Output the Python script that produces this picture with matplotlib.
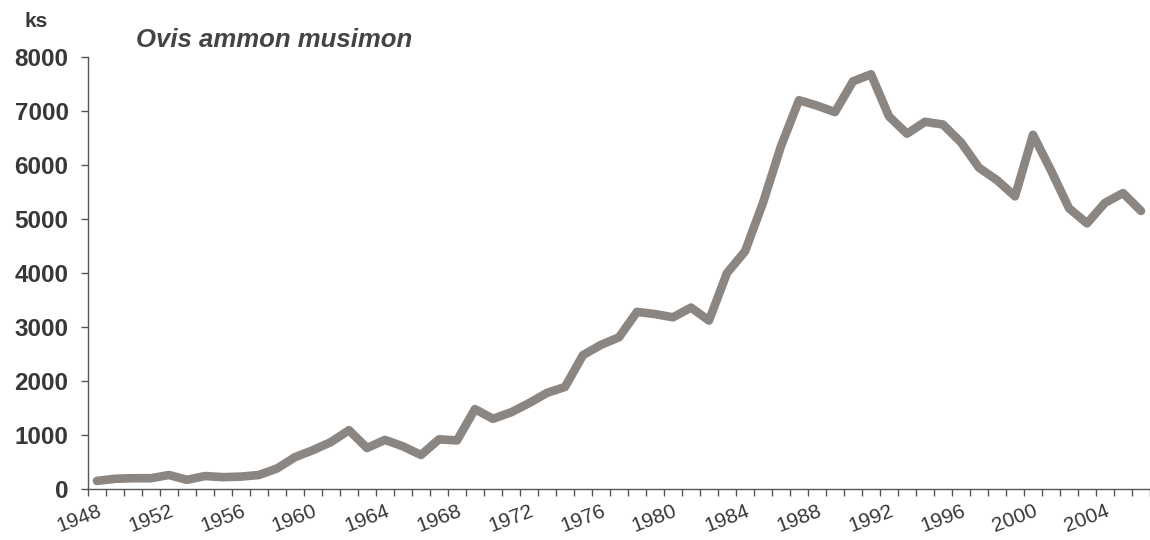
# library imports
import matplotlib
matplotlib.use('Agg')
import matplotlib.pyplot as plt


# data (ks per year)
years = list(range(1948, 2007))
heads = [150, 190, 200, 200, 260, 170, 240, 220, 230, 260,
         380, 590, 720, 870, 1090, 760, 910, 790, 630, 920,
         900, 1480, 1300, 1420, 1590, 1780, 1890, 2480, 2670, 2810,
         3280, 3240, 3180, 3360, 3120, 4000, 4400, 5300, 6350, 7200,
         7100, 6980, 7550, 7680, 6900, 6580, 6800, 6750, 6420, 5950,
         5720, 5420, 6560, 5900, 5200, 4920, 5300, 5480, 5150]
y_ticks = [0, 1000, 2000, 3000, 4000, 5000, 6000, 7000, 8000]
label_years = list(range(1948, 2005, 4))

# style
line_color = '#8b8681'
text_color = '#383838'
axis_color = '#555555'

plt.rcParams['font.family'] = ['Liberation Sans', 'DejaVu Sans']

fig = plt.figure(figsize=(11.5, 5.4), dpi=100)
ax = fig.add_axes([0.0765, 0.0944, 0.9235, 0.8])

ax.plot(years, heads, color=line_color, linewidth=6.2,
        solid_joinstyle='round', solid_capstyle='round')

# axis limits, categories sit between the yearly tick marks
ax.set_xlim(years[0] - 0.5, 2006.2)
ax.set_ylim(0, 8000)

for side in ['top', 'right']:
    ax.spines[side].set_visible(False)
for side in ['left', 'bottom']:
    ax.spines[side].set_color(axis_color)
    ax.spines[side].set_linewidth(1.0)

# y axis
ax.set_yticks(y_ticks)
ax.set_yticklabels([str(v) for v in y_ticks], fontsize=17.5,
                   fontweight='bold', color=text_color)
ax.tick_params(axis='y', length=5, width=1, color=axis_color, pad=9)

# x axis: tick marks at year boundaries, rotated labels at the years
ax.set_xticks([y - 0.5 for y in years] + [years[-1] + 0.5])
ax.set_xticklabels([])
ax.tick_params(axis='x', which='major', length=5, width=1, color=axis_color)
ax.set_xticks(label_years, minor=True)
ax.set_xticklabels([str(y) for y in label_years], minor=True,
                   rotation=21, ha='right', va='top', rotation_mode='anchor',
                   fontsize=15, color=text_color)
ax.tick_params(axis='x', which='minor', length=0, pad=9)

# unit and title
fig.text(0.031, 0.961, 'ks', fontsize=15, fontweight='bold',
         color=text_color, ha='center', va='center')
fig.text(0.118, 0.926, 'Ovis ammon musimon', fontsize=18.5, style='italic',
         fontweight='bold', color='#444444', ha='left', va='center')

fig.savefig('out.png', dpi=100, facecolor='white')
